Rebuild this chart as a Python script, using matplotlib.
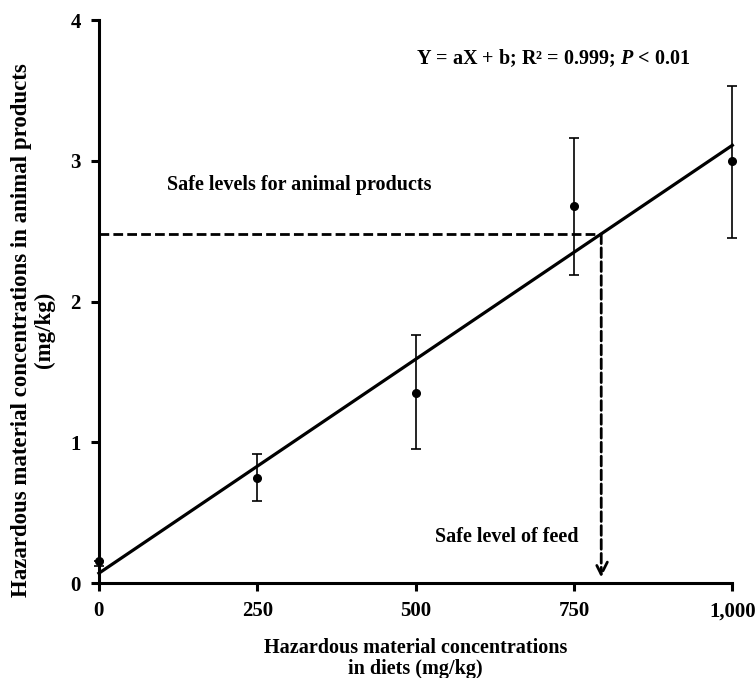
import numpy as np
import matplotlib.pyplot as plt

plt.rcParams['font.family'] = ['Liberation Serif', 'DejaVu Serif']
plt.rcParams['font.weight'] = 'bold'
plt.rcParams['mathtext.fontset'] = 'custom'
plt.rcParams['mathtext.rm'] = 'Liberation Serif:bold'
plt.rcParams['mathtext.it'] = 'Liberation Serif:italic:bold'
plt.rcParams['mathtext.bf'] = 'Liberation Serif:bold'

# data
diet_conc = [0, 250, 500, 750, 1000]
product_conc = [0.16, 0.75, 1.35, 2.68, 3.00]
err_low = [0.04, 0.17, 0.40, 0.49, 0.55]
err_high = [0.00, 0.17, 0.41, 0.48, 0.53]
fit_x = [0, 1000]
fit_y = [0.07, 3.11]
safe_product = 2.48
safe_feed = 793

fig = plt.figure(figsize=(7.55, 6.78), dpi=100)
ax = fig.add_axes([0.131, 0.140, 0.839, 0.8305])

ax.plot(fit_x, fit_y, color='black', lw=2.3, clip_on=False)
ax.errorbar(diet_conc, product_conc, yerr=[err_low, err_high], fmt='o', color='black',
            ms=5.5, elinewidth=1.2, capsize=3.5, capthick=1.2, clip_on=False, zorder=3)

# safe level guide lines
ax.plot([0, safe_feed], [safe_product, safe_product], color='black', lw=2, ls=(0, (3.5, 1.5)))
ax.annotate('', xy=(safe_feed, 0.04), xytext=(safe_feed, safe_product),
            arrowprops=dict(arrowstyle='->', color='black', lw=2, ls=(0, (3.5, 1.5)),
                            mutation_scale=22, shrinkA=0, shrinkB=0))

ax.text(107, 2.83, 'Safe levels for animal products', fontsize=14.5, fontweight='bold', va='center')
ax.text(531, 0.33, 'Safe level of feed', fontsize=14.5, fontweight='bold', va='center')
ax.text(717, 3.73, r'Y = aX + b; R² = 0.999; $\it{P}$ < 0.01', fontsize=14.5, fontweight='bold',
        ha='center', va='center')

ax.set_xlim(0, 1000)
ax.set_ylim(0, 4)
ax.set_xticks([0, 250, 500, 750, 1000])
ax.set_xticklabels(['0', '250', '500', '750', '1,000'])
ax.set_yticks([0, 1, 2, 3, 4])
for s in ['top', 'right']:
    ax.spines[s].set_visible(False)
for s in ['left', 'bottom']:
    ax.spines[s].set_linewidth(2.2)
ax.tick_params(width=2.2, length=6, labelsize=15, pad=7)
for lbl in ax.get_xticklabels() + ax.get_yticklabels():
    lbl.set_fontweight('bold')

ax.set_xlabel('Hazardous material concentrations\nin diets (mg/kg)', fontsize=14.5,
              fontweight='bold', labelpad=12, linespacing=1.05)
ax.set_ylabel('Hazardous material concentrations in animal products\n(mg/kg)', fontsize=16.5,
              fontweight='bold', labelpad=11, linespacing=1.1)
ax.yaxis.label.set_y(0.449)

fig.savefig('out.png', dpi=100)
